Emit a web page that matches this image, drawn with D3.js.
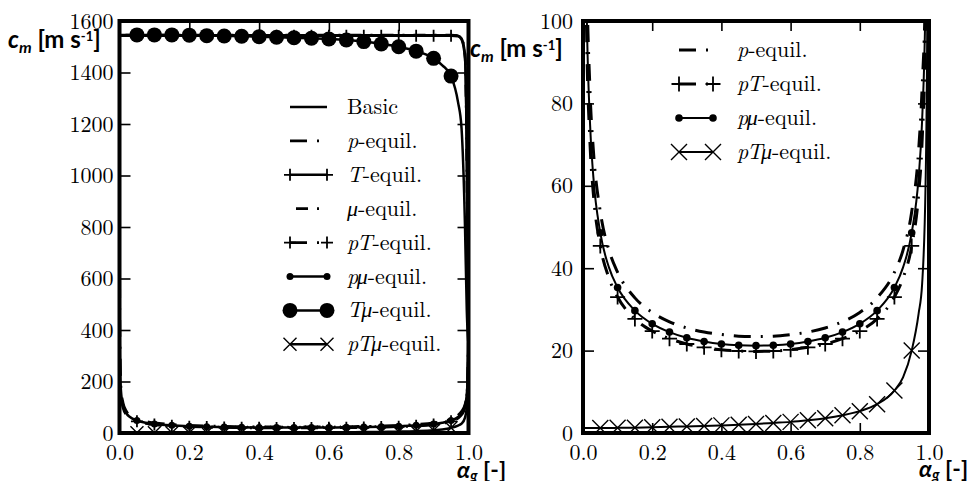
<!DOCTYPE html>
<html><head><meta charset="utf-8">
<script src="https://cdn.jsdelivr.net/npm/d3@7"></script>
<style>body{margin:0;background:#fff}</style>
</head><body><svg id="c" width="976" height="481"></svg>
<script>
// ---------------- DATA ----------------
const alphaGrid = [0, 0.0005, 0.001, 0.002, 0.005, 0.01, 0.02, 0.03, 0.05, 0.075, 0.1, 0.15, 0.2, 0.25, 0.3, 0.35, 0.4, 0.45, 0.5, 0.55, 0.6, 0.65, 0.7, 0.75, 0.8, 0.85, 0.9, 0.925, 0.95, 0.97, 0.98, 0.99, 0.995, 0.998, 0.999, 1.0];
const basicC = [1545,1545,1545,1545,1545,1545,1545,1545,1545,1545,1545,1545,1545,1545,1545,1545,1545,1545,1545,1545,1545,1545,1545,1545,1545,1545,1545,1545,1545,1543,1532,1470,1100,600,450,340];
const pC = [1500,490,353,253,162,117.6,83.6,68.6,53.7,44.4,39.0,32.8,29.25,27.0,25.5,24.5,23.9,23.5,23.4,23.5,23.9,24.5,25.5,27.0,29.25,32.8,39.0,44.4,53.7,68.6,83.6,110,147,205,248,340];
const TC = [1543,1543,1543,1543,1543,1543,1543,1543,1543,1543,1543,1543,1543,1543,1543,1543,1543,1543,1543,1543,1543,1543,1543,1543,1543,1543,1543,1543,1543,1541,1528,1455,1080,590,440,340];
const muC = [1545,1545,1545,1545,1545,1545,1545,1545,1545,1545,1545,1545,1545,1545,1545,1545,1545,1545,1545,1545,1545,1545,1545,1545,1545,1545,1545,1545,1545,1543,1532,1470,1100,600,450,340];
const pTC = [1500,450,320,225,140,99.5,70.7,58.0,45.4,37.6,33.0,27.7,24.75,22.9,21.6,20.8,20.2,19.9,19.8,19.9,20.2,20.8,21.6,22.9,24.75,27.7,33.0,37.6,45.4,58.0,70.7,99.5,140,225,300,340];
const pmuC = [1500,470,335,237,150,106.5,75.7,62.1,48.6,40.2,35.3,29.7,26.5,24.5,23.1,22.2,21.6,21.3,21.2,21.3,21.6,22.2,23.1,24.5,26.5,29.7,35.3,40.2,48.6,62.1,75.7,106.5,150,237,320,470];
const TmuC = [1546,1546,1546,1546,1546,1546,1546,1546,1546,1546,1546,1546,1545,1543,1542,1541,1539,1537,1535,1533,1530,1526,1520,1511,1500,1483,1455,1428,1386,1285,1185,800,480,380,360,340];
const pTmuC = [1.2,1.2,1.2,1.2,1.2,1.2,1.2,1.2,1.2,1.2,1.25,1.3,1.4,1.5,1.6,1.7,1.85,2.0,2.2,2.45,2.7,3.1,3.6,4.3,5.3,7.0,10.3,13.5,20,29,36,60,100,200,280,430];
const markerAlpha = [0.05,0.1,0.15,0.2,0.25,0.3,0.35,0.4,0.45,0.5,0.55,0.6,0.65,0.7,0.75,0.8,0.85,0.9,0.95];
const xTicks = [0, 0.2, 0.4, 0.6, 0.8, 1.0];
const leftYTicks = [0, 200, 400, 600, 800, 1000, 1200, 1400, 1600];
const rightYTicks = [0, 20, 40, 60, 80, 100];
const leftNames = ["Basic", "p-equil.", "T-equil.", "μ-equil.", "pT-equil.", "pμ-equil.", "Tμ-equil.", "pTμ-equil."];
const rightNames = ["p-equil.", "pT-equil.", "pμ-equil.", "pTμ-equil."];

// ---------------- STYLES ----------------
const seriesValues = {"Basic": basicC, "p-equil.": pC, "T-equil.": TC, "μ-equil.": muC,
  "pT-equil.": pTC, "pμ-equil.": pmuC, "Tμ-equil.": TmuC, "pTμ-equil.": pTmuC};
const styles = {
  "Basic":     {dash: null, marker: null},
  "p-equil.":  {dash: "17,10,2,10", marker: null},
  "T-equil.":  {dash: null, marker: "plus"},
  "μ-equil.":  {dash: "12,9,2,9", offset: -6, marker: null},
  "pT-equil.": {dash: "17,10,2,10", marker: "plus"},
  "pμ-equil.": {dash: null, marker: "dot"},
  "Tμ-equil.": {dash: null, marker: "bigdot"},
  "pTμ-equil.":{dash: null, marker: "cross"}
};
const drawOrder = ["μ-equil.", "Basic", "T-equil.", "Tμ-equil.", "p-equil.", "pT-equil.", "pμ-equil.", "pTμ-equil."];

const svg = d3.select("#c");
svg.append("rect").attr("width", 976).attr("height", 481).attr("fill", "#fff");
const defs = svg.append("defs");
const serif = '"Latin Modern Roman", "Liberation Serif", serif';
const sans = 'Lato, "Noto Sans", "DejaVu Sans", sans-serif';

function drawMarker(g, type, cx, cy, ms) {
  if (type === "plus") {
    g.append("path").attr("d", `M${cx - ms.plus},${cy}H${cx + ms.plus}M${cx},${cy - ms.plus}V${cy + ms.plus}`)
      .attr("stroke", "#000").attr("stroke-width", 1.8).attr("fill", "none");
  } else if (type === "cross") {
    const s = ms.cross;
    g.append("path").attr("d", `M${cx - s},${cy - s}L${cx + s},${cy + s}M${cx - s},${cy + s}L${cx + s},${cy - s}`)
      .attr("stroke", "#000").attr("stroke-width", 1.4).attr("fill", "none");
  } else if (type === "dot") {
    g.append("circle").attr("cx", cx).attr("cy", cy).attr("r", ms.dot).attr("fill", "#000");
  } else if (type === "bigdot") {
    g.append("circle").attr("cx", cx).attr("cy", cy).attr("r", ms.bigdot).attr("fill", "#000");
  }
}

function panel(cfg) {
  const x = d3.scaleLinear().domain([0, 1]).range([cfg.x0, cfg.x1]);
  const y = d3.scaleLinear().domain([0, cfg.yMax]).range([433, 21]);
  const clipId = "clip" + cfg.id;
  defs.append("clipPath").attr("id", clipId).append("rect")
    .attr("x", cfg.x0).attr("y", 21).attr("width", cfg.x1 - cfg.x0).attr("height", 412);
  const g = svg.append("g").attr("clip-path", `url(#${clipId})`);
  const line = d3.line().x((d) => x(d[0])).y((d) => y(d[1])).curve(d3.curveMonotoneX);
  drawOrder.filter((n) => cfg.names.includes(n)).forEach((name) => {
    const st = styles[name];
    const vals = seriesValues[name];
    const pts = alphaGrid.map((a, i) => [a, vals[i]]);
    const p = g.append("path").attr("d", line(pts)).attr("fill", "none")
      .attr("stroke", "#000").attr("stroke-width", st.dash ? cfg.lwDash : cfg.lw)
      .attr("stroke-linejoin", "round");
    if (st.dash) p.attr("stroke-dasharray", st.dash).attr("stroke-dashoffset", st.offset || 0);
    if (st.marker) {
      markerAlpha.forEach((a) => {
        const i = alphaGrid.findIndex((v) => Math.abs(v - a) < 1e-9);
        if (i >= 0) drawMarker(g, st.marker, x(a), y(vals[i]), cfg.ms);
      });
    }
  });
  const fmtX = d3.format(".1f");
  const ax = svg.append("g").attr("transform", "translate(0,433)")
    .call(d3.axisBottom(x).tickValues(xTicks).tickSize(-10).tickPadding(11).tickFormat(fmtX));
  const axT = svg.append("g").attr("transform", "translate(0,21)")
    .call(d3.axisTop(x).tickValues(xTicks).tickSize(-10).tickFormat(""));
  const ay = svg.append("g").attr("transform", `translate(${cfg.x0},0)`)
    .call(d3.axisLeft(y).tickValues(cfg.yTicks).tickSize(-11).tickPadding(cfg.yPad).tickFormat(d3.format("d")));
  const ayR = svg.append("g").attr("transform", `translate(${cfg.x1},0)`)
    .call(d3.axisRight(y).tickValues(cfg.yTicks).tickSize(-11).tickFormat(""));
  [ax, axT, ay, ayR].forEach((a) => {
    a.attr("font-family", null).attr("font-size", null);
    a.select(".domain").remove();
    a.selectAll(".tick line").attr("stroke", "#000").attr("stroke-width", 1.6);
    a.selectAll("text").style("font-family", serif).style("font-size", "22px").attr("fill", "#000");
  });
  svg.append("rect").attr("x", cfg.x0).attr("y", 21).attr("width", cfg.x1 - cfg.x0).attr("height", 412)
    .attr("fill", "none").attr("stroke", "#000").attr("stroke-width", 4);
  const lg = svg.append("g");
  cfg.names.forEach((name, i) => {
    const st = styles[name];
    const ly = cfg.legY0 + i * cfg.legDy;
    const l = lg.append("line").attr("x1", cfg.hx0).attr("x2", cfg.hx1).attr("y1", ly).attr("y2", ly)
      .attr("stroke", "#000").attr("stroke-width", st.dash ? cfg.lwDash : cfg.lw);
    if (st.dash) l.attr("stroke-dasharray", st.dash).attr("stroke-dashoffset", st.offset || 0);
    if (st.marker) {
      drawMarker(lg, st.marker, cfg.hx0, ly, cfg.ms);
      drawMarker(lg, st.marker, cfg.hx1, ly, cfg.ms);
    }
    const t = lg.append("text").attr("x", cfg.tx).attr("y", ly + 7)
      .style("font-family", serif).style("font-size", "22px").attr("fill", "#000");
    const k = name.indexOf("-equil.");
    if (k > 0) {
      t.append("tspan").style("font-style", "italic").style("letter-spacing", "-1.5px").text(name.slice(0, k));
      t.append("tspan").attr("dx", 1.5).text(name.slice(k));
    } else {
      t.text(name);
    }
  });
}

function yLabel(x0, y0) {
  const t = svg.append("text").attr("x", x0).attr("y", y0).style("font-family", sans)
    .style("font-weight", "bold").style("font-size", "24px").attr("fill", "#000");
  t.append("tspan").style("font-style", "italic").text("c");
  t.append("tspan").style("font-style", "italic").style("font-size", "16px").attr("dy", 5).text("m");
  t.append("tspan").attr("dy", -5).text(" [m s");
  t.append("tspan").style("font-size", "13px").attr("dy", -7).text("-1");
  t.append("tspan").attr("dy", 7).text("]");
}
function xLabel(x0, y0) {
  const t = svg.append("text").attr("x", x0).attr("y", y0).style("font-family", sans)
    .style("font-weight", "bold").style("font-size", "23px").attr("fill", "#000");
  t.append("tspan").style("font-style", "italic").text("α");
  t.append("tspan").style("font-style", "italic").style("font-size", "15px").attr("dy", 3).text("g");
  t.append("tspan").attr("dy", -3).text(" [-]");
}

panel({id: "L", x0: 119.5, x1: 468.5, yMax: 1600, yTicks: leftYTicks, yPad: 6, names: leftNames,
  lw: 2.5, lwDash: 2.8, ms: {plus: 6, cross: 6.5, dot: 3.5, bigdot: 7.5},
  legY0: 107, legDy: 33.9, hx0: 290, hx1: 327, tx: 347});
panel({id: "R", x0: 583, x1: 929, yMax: 100, yTicks: rightYTicks, yPad: 10, names: rightNames,
  lw: 2, lwDash: 3, ms: {plus: 7.5, cross: 8, dot: 3.8, bigdot: 7.5},
  legY0: 50, legDy: 34, hx0: 679, hx1: 713, tx: 737});

yLabel(8, 48);
yLabel(470, 57);
xLabel(457, 478);
xLabel(919, 477);
</script></body></html>
